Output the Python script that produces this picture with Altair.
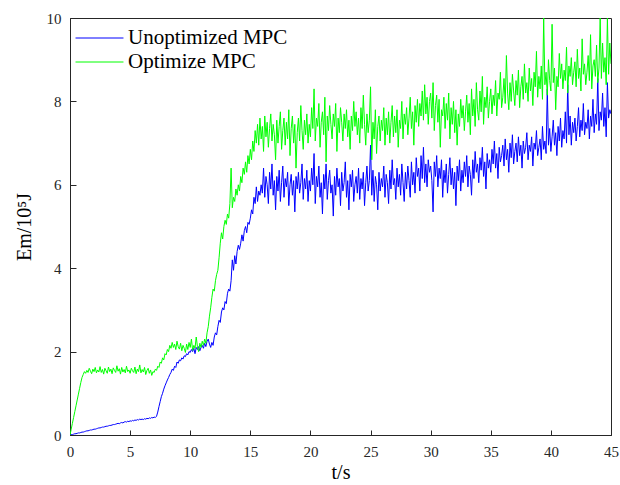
import altair as alt
import numpy as np
import pandas as pd

# time axis, 0.1 s sampling
t = np.round(np.arange(0, 451) * 0.1, 1)

unopt = [
    0.00, 0.01, 0.01, 0.02, 0.03, 0.03, 0.04, 0.05, 0.05, 0.06,
    0.07, 0.07, 0.08, 0.09, 0.10, 0.10, 0.11, 0.12, 0.12, 0.13,
    0.14, 0.14, 0.15, 0.16, 0.17, 0.17, 0.18, 0.19, 0.19, 0.20,
    0.21, 0.21, 0.22, 0.23, 0.23, 0.24, 0.25, 0.25, 0.26, 0.27,
    0.28, 0.27, 0.29, 0.30, 0.29, 0.31, 0.32, 0.31, 0.33, 0.32,
    0.34, 0.33, 0.35, 0.34, 0.36, 0.35, 0.37, 0.36, 0.38, 0.37,
    0.38, 0.37, 0.39, 0.38, 0.40, 0.39, 0.41, 0.40, 0.42, 0.41,
    0.43, 0.42, 0.45, 0.55, 0.68, 0.80, 0.92, 1.00, 1.10, 1.18,
    1.25, 1.32, 1.38, 1.45, 1.50, 1.58, 1.55, 1.65, 1.62, 1.75,
    1.72, 1.80, 1.78, 1.85, 1.82, 1.90, 1.88, 1.95, 1.92, 2.00,
    1.98, 2.05, 2.00, 2.08, 1.95, 2.10, 2.05, 2.12, 2.02, 2.10,
    2.15, 2.08, 2.20, 2.12, 2.25, 2.30, 2.18, 2.10, 2.22, 2.15,
    2.35, 2.45, 2.40, 2.60, 2.75, 2.70, 2.95, 3.05, 3.00, 3.20,
    3.15, 3.40, 3.50, 3.45, 3.70, 4.20, 3.95, 4.30, 4.10, 4.40,
    4.55, 4.45, 4.60, 4.80, 4.65, 4.90, 5.00, 4.85, 5.10, 5.05,
    5.20, 5.40, 5.30, 5.70, 5.55, 5.95, 5.60, 5.85, 5.75, 6.00,
    5.80, 6.40, 5.70, 6.20, 6.00, 5.55, 6.30, 5.90, 6.50, 5.75,
    6.10, 5.40, 6.20, 5.85, 6.35, 5.60, 6.05, 6.45, 5.70, 6.15,
    5.95, 6.30, 5.50, 6.00, 6.25, 5.75, 6.10, 5.35, 6.20, 5.90,
    6.30, 5.80, 6.05, 6.50, 5.65, 6.15, 5.90, 6.35, 5.60, 6.10,
    5.85, 6.40, 6.00, 6.75, 5.55, 6.20, 5.95, 6.45, 5.70, 6.05,
    5.30, 6.25, 5.90, 6.50, 5.65, 6.10, 6.35, 5.80, 6.00, 5.25,
    6.20, 5.75, 6.40, 5.95, 6.15, 5.50, 6.30, 5.85, 6.05, 6.55,
    5.70, 6.10, 5.40, 6.25, 5.95, 6.35, 5.60, 6.00, 6.20, 5.80,
    6.40, 5.65, 6.15, 5.90, 6.30, 5.50, 6.05, 6.45, 5.85, 6.10,
    6.95, 5.75, 6.35, 5.60, 6.20, 6.00, 5.40, 6.30, 5.85, 6.15,
    5.95, 6.45, 5.70, 6.25, 6.05, 5.55, 6.35, 5.90, 6.60, 6.00,
    6.15, 5.65, 6.40, 5.95, 6.25, 5.75, 6.50, 6.05, 5.60, 6.30,
    5.90, 6.45, 6.10, 5.70, 6.55, 6.00, 6.30, 5.80, 6.65, 6.20,
    6.40, 5.85, 6.70, 6.15, 6.90, 6.05, 6.50, 5.95, 6.60, 6.30,
    6.45, 6.10, 5.35, 6.55, 6.20, 6.70, 5.95, 6.40, 6.15, 6.60,
    5.70, 6.35, 6.05, 6.50, 5.80, 6.25, 6.65, 6.00, 6.40, 5.90,
    6.30, 5.50, 6.45, 6.10, 6.60, 5.85, 6.35, 6.05, 6.55, 6.20,
    6.70, 5.95, 6.45, 6.25, 5.75, 6.60, 6.15, 6.80, 6.30, 6.50,
    6.05, 6.65, 6.35, 6.90, 6.20, 6.55, 5.90, 6.75, 6.40, 6.60,
    6.30, 6.85, 6.50, 7.05, 6.40, 6.75, 6.15, 6.90, 6.55, 6.70,
    6.95, 6.45, 7.10, 6.60, 6.85, 6.30, 7.00, 6.65, 7.20, 6.50,
    6.80, 7.00, 6.55, 7.15, 6.70, 6.95, 6.40, 7.05, 6.75, 6.90,
    7.25, 6.60, 6.95, 6.80, 7.15, 6.45, 7.00, 6.85, 7.30, 6.70,
    6.90, 7.10, 6.60, 7.40, 6.85, 7.05, 6.75, 8.30, 6.95, 7.35,
    6.80, 7.15, 7.55, 6.95, 7.25, 6.70, 7.40, 7.05, 7.60, 6.90,
    7.30, 7.10, 7.75, 7.00, 8.40, 7.20, 7.65, 6.95, 7.50, 7.25,
    7.60, 7.05, 7.40, 7.85, 7.15, 7.55, 7.30, 7.95, 7.20, 7.50,
    7.35, 7.80, 7.10, 7.65, 7.40, 8.05, 7.25, 7.70, 7.45, 8.55,
    7.30, 7.75, 7.55, 8.20, 7.40, 7.85, 7.15, 8.45, 7.60, 7.80,
    7.70,
]

opt = [
    0.00, 0.14, 0.28, 0.42, 0.56, 0.70, 0.84, 0.98, 1.12, 1.26,
    1.38, 1.45, 1.52, 1.48, 1.55, 1.50, 1.60, 1.53, 1.47, 1.58,
    1.52, 1.62, 1.49, 1.56, 1.51, 1.64, 1.50, 1.57, 1.46, 1.60,
    1.54, 1.48, 1.63, 1.52, 1.58, 1.47, 1.61, 1.55, 1.50, 1.66,
    1.53, 1.59, 1.46, 1.62, 1.51, 1.57, 1.49, 1.65, 1.52, 1.56,
    1.48, 1.60, 1.54, 1.50, 1.63, 1.47, 1.58, 1.52, 1.68, 1.49,
    1.57, 1.51, 1.62, 1.45, 1.55, 1.60, 1.48, 1.56, 1.43, 1.52,
    1.50, 1.58, 1.55, 1.65, 1.62, 1.75, 1.72, 1.85, 1.80, 1.95,
    1.92, 2.05, 2.00, 2.15, 2.08, 2.22, 2.10, 2.18, 2.05, 2.25,
    2.12, 2.06, 2.20, 2.02, 2.15, 2.08, 1.98, 2.18, 2.05, 2.22,
    2.10, 2.30, 2.03, 2.15, 2.08, 2.35, 2.12, 2.00, 2.20, 2.10,
    2.25, 2.15, 2.30, 2.20, 2.45, 2.60, 2.85, 3.05, 3.30, 3.50,
    3.45, 3.70, 3.85, 3.95, 4.25, 4.60, 4.85, 4.70, 5.00, 5.15,
    5.05, 5.30, 5.20, 5.55, 6.40, 5.45, 5.70, 5.60, 5.90, 5.75,
    6.00, 5.85, 6.20, 6.05, 6.40, 6.25, 6.55, 6.30, 6.70, 6.50,
    6.85, 6.60, 7.05, 6.80, 7.30, 7.00, 7.45, 6.95, 7.60, 7.10,
    7.40, 6.80, 7.65, 7.15, 7.50, 6.90, 7.35, 7.70, 7.05, 7.45,
    7.20, 6.60, 7.55, 7.00, 7.40, 7.75, 6.85, 7.30, 7.60, 6.95,
    7.50, 7.10, 7.80, 6.70, 7.35, 7.65, 7.00, 7.45, 6.40, 7.25,
    7.60, 7.05, 7.90, 7.30, 6.85, 7.55, 7.20, 7.70, 7.00, 7.45,
    7.15, 7.85, 7.35, 8.30, 7.05, 7.60, 7.40, 7.95, 6.90, 7.50,
    7.75, 7.20, 8.10, 6.55, 7.65, 7.30, 7.90, 7.45, 7.10, 7.70,
    7.40, 7.95, 6.80, 7.60, 7.25, 7.85, 7.50, 7.05, 7.70, 7.35,
    7.80, 7.15, 7.55, 6.85, 7.65, 7.30, 8.00, 7.40, 7.75, 7.20,
    7.60, 7.00, 7.85, 7.35, 8.15, 7.45, 6.95, 7.70, 7.25, 7.55,
    8.35, 6.60, 7.50, 7.10, 7.80, 6.75, 7.40, 7.65, 7.05, 7.55,
    7.30, 7.85, 6.95, 7.60, 7.20, 7.75, 7.00, 7.50, 7.90, 7.15,
    7.65, 7.25, 7.80, 6.90, 7.55, 7.35, 8.00, 7.10, 7.70, 7.45,
    7.85, 7.20, 7.60, 8.10, 7.35, 7.75, 6.95, 7.90, 7.50, 8.05,
    7.40, 7.95, 7.65, 8.25, 7.55, 8.40, 7.70, 8.10, 7.45, 8.00,
    8.20, 7.60, 8.45, 7.30, 7.90, 8.15, 7.50, 8.05, 6.90, 7.80,
    7.65, 8.10, 7.35, 7.95, 7.55, 8.20, 7.10, 7.85, 7.45, 8.00,
    7.25, 7.80, 6.95, 7.70, 7.40, 8.05, 7.60, 7.90, 7.30, 7.75,
    8.15, 7.50, 7.95, 7.20, 8.30, 7.65, 8.05, 7.40, 8.45, 7.80,
    7.55, 8.25, 7.75, 8.60, 7.45, 8.10, 7.85, 8.35, 7.60, 8.00,
    8.30, 7.70, 8.15, 7.90, 8.50, 7.65, 8.20, 8.05, 8.70, 7.85,
    8.10, 8.55, 7.95, 9.10, 8.20, 7.80, 8.45, 8.00, 8.65, 8.25,
    7.90, 8.50, 8.15, 8.75, 7.85, 8.35, 8.60, 8.05, 8.90, 8.20,
    8.45, 8.00, 8.80, 8.25, 8.55, 7.90, 8.70, 8.35, 9.20, 8.10,
    8.60, 8.30, 8.85, 8.05, 10.0, 8.40, 8.70, 8.15, 9.00, 8.50,
    8.25, 9.85, 8.45, 8.80, 7.80, 8.60, 8.35, 9.15, 8.55, 8.90,
    8.30, 8.75, 8.50, 9.30, 8.20, 8.85, 8.60, 9.05, 8.40, 8.70,
    8.95, 8.35, 9.25, 8.55, 8.80, 8.25, 9.50, 8.65, 8.90, 8.40,
    8.70, 9.10, 8.50, 9.60, 8.30, 8.85, 9.00, 8.60, 9.35, 8.45,
    8.80, 10.0, 8.55, 9.40, 8.70, 9.05, 8.40, 10.0, 8.65, 9.40,
    8.90,
]

series_names = ["Unoptimized MPC", "Optimize MPC"]
series_colors = ["#0000FF", "#00FF00"]
x_ticks = [0, 5, 10, 15, 20, 25, 30, 35, 40, 45]
y_ticks = [0, 2, 4, 6, 8, 10]

df = pd.concat([
    pd.DataFrame({"t": t, "v": unopt, "s": series_names[0], "o": 0}),
    pd.DataFrame({"t": t, "v": opt, "s": series_names[1], "o": 1}),
])

FONT = "Liberation Serif"
INK = "#262626"

xs = alt.Scale(domain=[0, 45], nice=False, zero=False)
ys = alt.Scale(domain=[0, 10], nice=False)

lines = alt.Chart(df).mark_line(strokeWidth=1, clip=True).encode(
    x=alt.X("t:Q", scale=xs,
            axis=alt.Axis(values=x_ticks, tickSize=0, labelPadding=9, grid=False,
                          title="t/s", titleFont=FONT, titleFontSize=20,
                          titleFontWeight="normal", titleColor="black",
                          titlePadding=3, labelFont=FONT, labelFontSize=15,
                          labelColor=INK, domainColor=INK, labelFlush=False)),
    y=alt.Y("v:Q", scale=ys,
            axis=alt.Axis(values=y_ticks, tickSize=0, labelPadding=9, grid=False,
                          title="Em/10⁵J", titleFont=FONT, titleFontSize=20,
                          titleFontWeight="normal", titleColor="black",
                          titlePadding=12, labelFont=FONT, labelFontSize=15,
                          labelColor=INK, domainColor=INK, labelFlush=False)),
    color=alt.Color("s:N",
                    scale=alt.Scale(domain=series_names, range=series_colors),
                    legend=alt.Legend(orient="none", legendX=18, legendY=8.5, title=None,
                                      symbolType="M-2.18,0H2.18", symbolSize=484,
                                      symbolStrokeWidth=1, labelFont=FONT,
                                      labelFontSize=21, labelColor="black",
                                      labelOffset=17, rowPadding=2)),
    detail="s:N",
    order="o:Q",
)

ticks = alt.Chart(df).mark_line(strokeOpacity=0).encode(
    x=alt.X("t:Q", scale=xs,
            axis=alt.Axis(orient="bottom", values=x_ticks, tickSize=5, offset=-5,
                          labels=False, domain=False, grid=False, title=None,
                          tickColor=INK)),
    y=alt.Y("v:Q", scale=ys,
            axis=alt.Axis(orient="left", values=y_ticks, tickSize=6, offset=-6,
                          labels=False, domain=False, grid=False, title=None,
                          tickColor=INK)),
    detail="s:N",
)

chart = alt.layer(lines, ticks).resolve_axis(
    x="independent", y="independent"
).properties(
    width=541, height=417,
    autosize=alt.AutoSizeParams(type="none"),
    padding={"left": 70, "top": 18, "right": 9, "bottom": 50},
).configure_view(stroke=INK, strokeWidth=1)

chart.save("out.html", embed_options={"renderer": "svg", "actions": False})
